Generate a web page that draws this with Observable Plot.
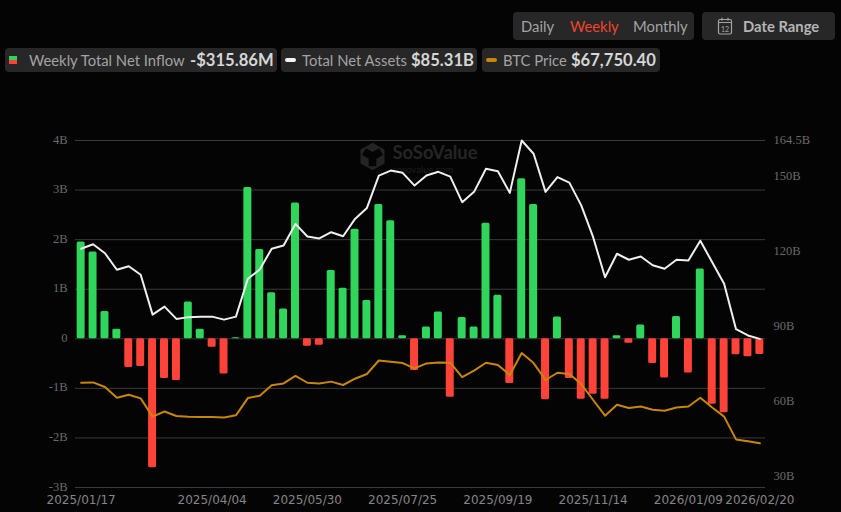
<!DOCTYPE html>
<html><head><meta charset="utf-8">
<script src="https://cdn.jsdelivr.net/npm/d3@7"></script>
<script src="https://cdn.jsdelivr.net/npm/@observablehq/plot@0.6"></script>
<style>
html,body{margin:0;padding:0;background:#040404;width:841px;height:512px;overflow:hidden}
body{font-family:Lato,sans-serif;position:relative}
#head{position:relative;height:90px;width:841px}
.pill{position:absolute;background:#272727;border-radius:4px}
.t{position:absolute;white-space:nowrap;font-size:14.8px;color:#a3a3a3;line-height:20px;top:50px}
.v{position:absolute;white-space:nowrap;font-size:16.6px;font-weight:700;color:#d6d6d6;line-height:20px;top:50px}
.k{position:absolute;display:block}
#chart svg{display:block}
</style></head><body>
<div id="head">
 <div class="pill" style="left:513px;top:12px;width:181px;height:28px"></div>
 <div class="pill" style="left:702px;top:12px;width:133px;height:28px"></div>
 <div class="pill" style="left:5px;top:48px;width:272px;height:24px"></div>
 <div class="pill" style="left:281px;top:48px;width:196px;height:24px"></div>
 <div class="pill" style="left:482px;top:48px;width:178px;height:24px"></div>
 <span class="t" style="left:521px;top:16px">Daily</span>
 <span class="t" style="left:570px;top:16px;color:#f0452a">Weekly</span>
 <span class="t" style="left:633px;top:16px">Monthly</span>
 <svg class="k" style="left:717px;top:17px" width="16" height="18" viewBox="0 0 16 18" fill="none" stroke="#a3a3a3" stroke-width="1.2"><rect x="1.5" y="2.5" width="13" height="14.5" rx="1.5"/><path d="M1.5 5.5h13M5 .8v3M11 .8v3"/><text x="8" y="14.5" font-size="7" text-anchor="middle" fill="#a3a3a3" stroke="none">12</text></svg>
 <span class="t" style="left:743px;top:16px;font-weight:700;color:#b5b5b5">Date Range</span>
 <i class="k" style="left:9px;top:56px;width:8px;height:8px;background:linear-gradient(#2fd45c 50%,#ff4338 50%)"></i>
 <span class="t" style="left:29px">Weekly Total Net Inflow</span>
 <span class="v" style="left:190px">-$315.86M</span>
 <i class="k" style="left:285px;top:58px;width:11px;height:4px;border-radius:2px;background:#f2f2f2"></i>
 <span class="t" style="left:302px">Total Net Assets</span>
 <span class="v" style="left:411px">$85.31B</span>
 <i class="k" style="left:486px;top:58px;width:11px;height:4px;border-radius:2px;background:#c8860a"></i>
 <span class="t" style="left:503px">BTC Price</span>
 <span class="v" style="left:571px">$67,750.40</span>
</div>
<div id="chart"></div>
<script>
const startDate = "2025-01-17";
const netInflow = [1.95,1.75,0.55,0.19,-0.58,-0.56,-2.6,-0.8,-0.84,0.74,0.19,-0.17,-0.71,0.02,3.05,1.8,0.93,0.6,2.74,-0.15,-0.13,1.38,1.02,2.21,0.77,2.71,2.38,0.06,-0.64,0.24,0.54,-1.18,0.43,0.24,2.33,0.88,-0.9,3.23,2.71,-1.23,0.44,-0.8,-1.22,-1.12,-1.22,0.06,-0.09,0.28,-0.5,-0.79,0.45,-0.69,1.41,-1.32,-1.49,-0.32,-0.36,-0.316];
const netAssets = [121.3,123.1,119.5,112.9,114.3,110.9,95,98.2,93.3,94,94.2,94.2,93,94.2,109.3,113,121.3,122.6,131.2,126.2,125.4,127.9,126.3,133.2,137.6,150.5,152.5,151.6,146.5,150.5,152,150.1,139.9,144,153.2,152.2,143.6,164.5,159.2,144,149.9,147.7,138.6,125.9,109.9,119.3,116.9,118.2,114.7,113.3,116.9,116.6,124.5,115.9,107.3,89.2,86.7,85.31];
const btcPrice = [105.3,105.5,102.7,96,97.9,95.6,84.3,87.5,84.7,84.3,84.1,84.1,83.8,85.1,95.8,97.3,103.7,104.9,109.5,105.3,104.9,106,103.9,107.8,110.7,119.1,118.3,117.5,114.2,117.3,117.9,117.7,108.8,112.8,117.7,116.3,110.1,123.7,117.5,107,111.5,110.7,104.5,94.6,84.9,91.7,89.6,90.6,88.6,88,90,90.6,96,90,84.3,70.2,69,67.75];
const leftTicks = [-3,-2,-1,0,1,2,3,4];
const rightTicks = [30,60,90,120,150,164.5];
const xTicks = ["2025/01/17","2025/04/04","2025/05/30","2025/07/25","2025/09/19","2025/11/14","2026/01/09","2026/02/20"];

const fmt = d3.utcFormat("%Y/%m/%d");
const dates = netInflow.map((_, i) => fmt(d3.utcDay.offset(new Date(startDate + "T00:00:00Z"), 7 * i)));
// secondary series share the flow scale through linear maps
const assetsToY = d3.scaleLinear([26, 164.5], [-3, 4]);
const btcToY = d3.scaleLinear([0, 124], [-4.315, -0.278]);
const rows = dates.map((d, i) => ({d, flow: netInflow[i], assets: assetsToY(netAssets[i]), btc: btcToY(btcPrice[i])}));
const labelColor = "#6a6a6a";

const plot = Plot.plot({
  width: 841, height: 422,
  marginLeft: 75, marginRight: 76, marginTop: 50, marginBottom: 25,
  style: {background: "transparent", fontFamily: "Lato, sans-serif", overflow: "visible"},
  x: {type: "band", domain: dates, paddingInner: 0.33, paddingOuter: 0.14, align: 0.5, round: false},
  y: {domain: [-3, 4]},
  marks: [
    Plot.ruleY(leftTicks, {stroke: "#3a3a3a", strokeWidth: 1}),
    Plot.dot([0], {frameAnchor: "top-left", dx: 297, dy: 16, symbol: "hexagon", r: 12, fill: "#242424"}),
    Plot.dot([0], {frameAnchor: "top-left", dx: 297, dy: 16, symbol: "wye", r: 8, fill: "#040404"}),
    Plot.text(["SoSoValue"], {frameAnchor: "top-left", dx: 317, dy: 5, text: d => d, fill: "#252525", fontSize: 18.4, fontWeight: 700, textAnchor: "start"}),
    Plot.text(["sosovalue.com"], {frameAnchor: "top-left", dx: 317, dy: 26, text: d => d, fill: "#1f1f1f", fontSize: 9.5, textAnchor: "start"}),
    Plot.barY(rows, {x: "d", y: "flow", fill: d => d.flow >= 0 ? "#30d65c" : "#ff4338", rx: 1.5}),
    Plot.line(rows, {x: "d", y: "btc", stroke: "#c8860a", strokeWidth: 2, curve: "linear"}),
    Plot.line(rows, {x: "d", y: "assets", stroke: "#efefef", strokeWidth: 2, curve: "linear"}),
    Plot.axisY(leftTicks, {anchor: "left", tickSize: 0, tickPadding: 8, dy: -1, tickFormat: d => d === 0 ? "0" : d + "B", fill: labelColor, fontSize: 12.5, fontFamily: "Liberation Serif", label: null}),
    Plot.axisY(rightTicks.map(v => assetsToY(v)), {anchor: "right", tickSize: 0, tickPadding: 8, dy: -1, tickFormat: (d, i) => rightTicks[i] + "B", fill: labelColor, fontSize: 12.5, fontFamily: "Liberation Serif", label: null}),
    Plot.axisX(xTicks, {tickSize: 0, tickPadding: 8, fill: "#858585", fontSize: 12, fontFamily: "DejaVu Sans", label: null})
  ]
});
document.getElementById("chart").append(plot);
</script>
</body></html>
